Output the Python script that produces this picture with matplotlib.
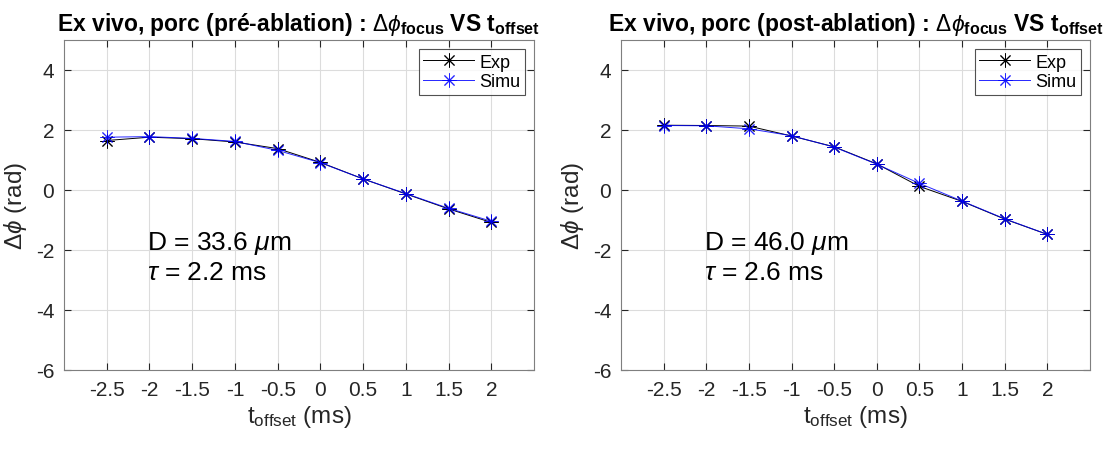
import matplotlib
matplotlib.use("Agg")
import matplotlib.pyplot as plt

plt.rcParams['font.family'] = ['Liberation Sans', 'DejaVu Sans']
plt.rcParams['mathtext.fontset'] = 'custom'
plt.rcParams['mathtext.rm'] = 'Liberation Sans'
plt.rcParams['mathtext.it'] = 'Liberation Sans:italic'
plt.rcParams['mathtext.bf'] = 'Liberation Sans:bold'
plt.rcParams['axes.unicode_minus'] = False

t_offset = [-2.5, -2, -1.5, -1, -0.5, 0, 0.5, 1, 1.5, 2]
exp_pre = [1.65, 1.76, 1.71, 1.60, 1.38, 0.92, 0.37, -0.13, -0.63, -1.08]
simu_pre = [1.76, 1.78, 1.72, 1.62, 1.32, 0.91, 0.37, -0.12, -0.61, -1.04]
exp_post = [2.16, 2.15, 2.13, 1.80, 1.44, 0.87, 0.12, -0.38, -0.97, -1.48]
simu_post = [2.15, 2.14, 2.04, 1.81, 1.43, 0.86, 0.22, -0.37, -0.96, -1.48]

titles = ["Ex vivo, porc (pré-ablation) : $\\Delta\\phi_{\\mathbf{focus}}$ VS t$_{\\mathbf{offset}}$",
          "Ex vivo, porc (post-ablation) : $\\Delta\\phi_{\\mathbf{focus}}$ VS t$_{\\mathbf{offset}}$"]
d_texts = ["D = 33.6 $\\mu$m", "D = 46.0 $\\mu$m"]
tau_texts = ["$\\tau$ = 2.2 ms", "$\\tau$ = 2.6 ms"]
xticks = [-2.5, -2, -1.5, -1, -0.5, 0, 0.5, 1, 1.5, 2]
xticklabels = ["-2.5", "-2", "-1.5", "-1", "-0.5", "0", "0.5", "1", "1.5", "2"]
yticks = [-6, -4, -2, 0, 2, 4]

fig = plt.figure(figsize=(11.07, 4.52), dpi=100)
axes = [fig.add_axes([64/1107, 81/452, 470/1107, 330/452]),
        fig.add_axes([621/1107, 81/452, 469/1107, 330/452])]

ax_col = '#262626'
datasets = [(exp_pre, simu_pre), (exp_post, simu_post)]
asterisk = (8, 2, 0)
for i, ax in enumerate(axes):
    e, s = datasets[i]
    ax.plot(t_offset, e, color='k', lw=0.7, marker=asterisk, ms=10, mew=0.7, label='Exp')
    ax.plot(t_offset, s, color='#0000ff', lw=0.7, marker=asterisk, ms=10, mew=0.7, label='Simu', alpha=0.85)
    ax.set_xlim(-3, 2.5)
    ax.set_ylim(-6, 5)
    ax.set_xticks(xticks)
    ax.set_xticklabels(xticklabels)
    ax.set_yticks(yticks)
    ax.grid(True, color='#dcdcdc', lw=0.8)
    ax.set_axisbelow(True)
    ax.tick_params(direction='in', top=True, right=True, labelsize=15, colors=ax_col,
                   length=5, width=0.8, pad=7)
    for sp in ax.spines.values():
        sp.set_color('#7f7f7f')
        sp.set_linewidth(0.8)
    ax.set_xlabel("t$_{\\mathrm{offset}}$ (ms)", fontsize=17.5, color=ax_col, labelpad=3)
    ax.set_ylabel("$\\Delta\\phi$ (rad)", fontsize=17.5, color=ax_col, labelpad=5)
    ax.set_title(titles[i], fontsize=16.5, fontweight='bold', color='k', pad=7)
    ax.text(-2.03, -1.75, d_texts[i], fontsize=19, va='center', ha='left', color='k')
    ax.text(-2.03, -2.72, tau_texts[i], fontsize=19, va='center', ha='left', color='k')
    leg = ax.legend(loc='upper right', fontsize=13, frameon=True, fancybox=False,
                    edgecolor='#262626', borderaxespad=0.5, handlelength=2.8,
                    borderpad=0.25, labelspacing=0.15, handletextpad=0.3)
    leg.get_frame().set_linewidth(0.8)

fig.savefig("out.png", dpi=100)
